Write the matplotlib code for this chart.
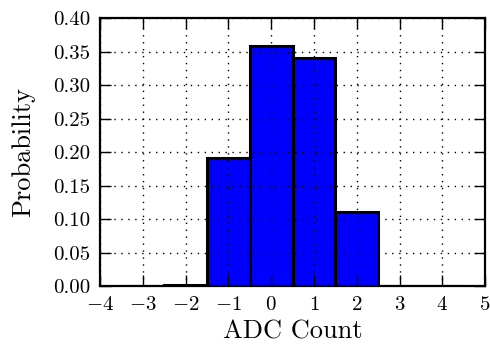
import numpy as np
import matplotlib
matplotlib.use('Agg')
import matplotlib.pyplot as plt

plt.rcParams['font.family'] = 'serif'
plt.rcParams['font.serif'] = ['cmr10']
plt.rcParams['mathtext.fontset'] = 'cm'
plt.rcParams['axes.formatter.use_mathtext'] = True
plt.rcParams['axes.unicode_minus'] = True

adc_counts = np.array([-3, -2, -1, 0, 1, 2, 3, 4])
probability = np.array([0.0, 0.002, 0.192, 0.358, 0.340, 0.110, 0.0, 0.0])

fig = plt.figure(figsize=(4.9, 3.49), dpi=100)
ax = fig.add_axes([0.204, 0.180, 0.786, 0.768])

ax.bar(adc_counts, probability, width=1.0, color='#0000ff', edgecolor='black',
       linewidth=2.2, zorder=2)

ax.set_xlim(-4, 5)
ax.set_ylim(0, 0.40)
ax.set_xticks(np.arange(-4, 6, 1))
ax.set_yticks(np.arange(0, 0.41, 0.05))
ax.set_yticklabels(['%.2f' % v for v in np.arange(0, 0.41, 0.05)])
ax.set_xticklabels(['$%d$' % v if v >= 0 else '$-%d$' % -v for v in range(-4, 6)])

ax.grid(True, linestyle=(0, (1, 4)), color='black', linewidth=1.0, zorder=3)
ax.set_axisbelow(False)
ax.tick_params(direction='in', top=True, right=True, length=8, width=1.0,
               labelsize=15, pad=7)
for s in ax.spines.values():
    s.set_linewidth(1.6)
    s.set_zorder(4)

ax.set_xlabel('ADC Count', fontsize=19)
ax.set_ylabel('Probability', fontsize=19, labelpad=13)

fig.savefig('out.png', dpi=100)
